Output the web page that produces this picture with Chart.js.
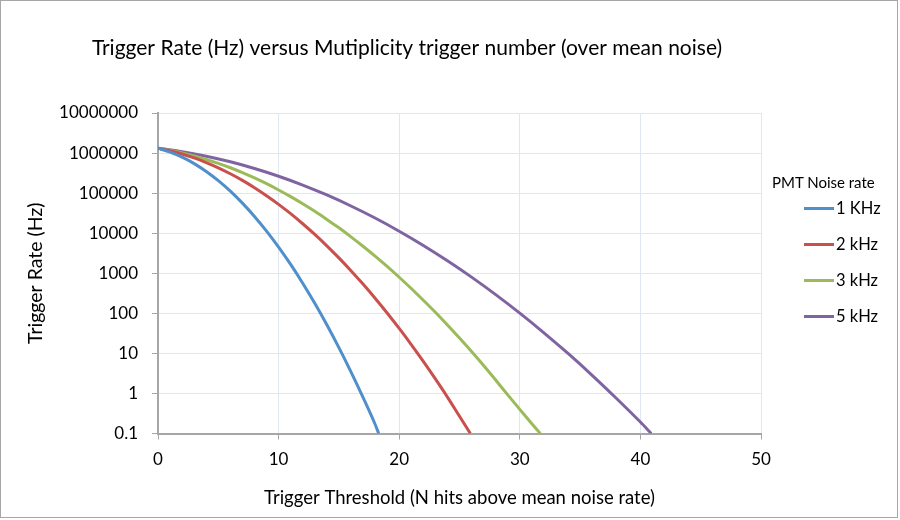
<!DOCTYPE html>
<html>
<head>
<meta charset="utf-8">
<script src="https://cdn.jsdelivr.net/npm/chart.js@4.4.1/dist/chart.umd.min.js"></script>
<style>
  html, body { margin: 0; padding: 0; background: #fff; }
  #frame { position: absolute; left: 0; top: 0; width: 896px; height: 516px; border: 1px solid #a6a6a6; }
  canvas { display: block; }
  #legend { position: absolute; left: 772px; top: 172px; font-family: Lato, "Open Sans", sans-serif; color: #000; }
  #legend .legend-title { font-size: 15px; line-height: 20px; height: 18px; white-space: nowrap; }
  #legend .legend-item { font-size: 16.5px; line-height: 36px; height: 36px; padding-left: 32px; white-space: nowrap; }
  #legend .swatch { display: inline-block; width: 30px; height: 3px; margin-right: 2px; vertical-align: middle; position: relative; top: -1px; }
</style>
</head>
<body>
<div id="frame"><canvas id="rateChart" width="896" height="516"></canvas></div>
<div id="legend"></div>
<script>
Chart.defaults.font.family = "Lato, 'Open Sans', sans-serif";
Chart.defaults.color = "#000";

const Y_TICKS = [0.1, 1, 10, 100, 1000, 10000, 100000, 1000000, 10000000];

const NOISE_LABELS = ["1 KHz", "2 kHz", "3 kHz", "5 kHz"];
const NOISE_COLORS = ["#4f8fcc", "#c9504c", "#9bbb59", "#8064a2"];

// values (Hz, log axis)
const RATE_1KHZ_X = [0, 1, 2, 3, 4, 5, 6, 7, 8, 9, 10, 11, 12, 13, 14, 15, 16, 17, 18, 18.3];
const RATE_1KHZ_Y = [1320000, 1060000, 792000, 546000, 348000, 205000, 112000, 56200, 26200, 11300,
                     4500, 1660, 565, 178, 51.8, 13.9, 3.47, 0.8, 0.17, 0.1];

const RATE_2KHZ_X = [0, 1, 2, 3, 4, 5, 6, 7, 8, 9, 10, 11, 12, 13, 14, 15, 16, 17, 18, 19, 20,
                     21, 22, 23, 24, 25, 25.9];
const RATE_2KHZ_Y = [1320000, 1140000, 946000, 756000, 580000, 429000, 304000, 208000, 137000, 86300,
                     52500, 30700, 17200, 9310, 4840, 2420, 1160, 536, 238, 102, 41.9,
                     16.6, 6.3, 2.3, 0.81, 0.27, 0.1];

const RATE_3KHZ_X = [0, 1, 2, 3, 4, 5, 6, 7, 8, 9, 10, 11, 12, 13, 14, 15, 16, 17, 18, 19, 20,
                     21, 22, 23, 24, 25, 26, 27, 28, 29, 30, 31, 31.7];
const RATE_3KHZ_Y = [1320000, 1170000, 1010000, 847000, 693000, 553000, 430000, 325000, 239000, 172000,
                     120000, 81800, 54300, 35200, 22100, 13600, 8110, 4720, 2670, 1480, 794,
                     416, 212, 106, 51.2, 24.1, 11.1, 4.97, 2.16, 0.92, 0.4, 0.175, 0.1];

const RATE_5KHZ_X = [0, 2, 4, 6, 8, 10, 12, 14, 16, 18, 20, 22, 24, 26, 28, 30, 32, 34, 36, 38, 40, 40.9];
const RATE_5KHZ_Y = [1320000, 1080000, 834000, 605000, 412000, 264000, 159000, 89800, 47700, 23900,
                     11200, 4940, 2050, 800, 293, 101, 32.6, 9.94, 2.84, 0.76, 0.193, 0.1];

const SERIES_X = [RATE_1KHZ_X, RATE_2KHZ_X, RATE_3KHZ_X, RATE_5KHZ_X];
const SERIES_Y = [RATE_1KHZ_Y, RATE_2KHZ_Y, RATE_3KHZ_Y, RATE_5KHZ_Y];

const GRID = "#dfe7f2";
const AXIS = "#a6a6a6";

// ── Plugins ─────────────────────────────────────────────────────────────

// Excel puts the title a little left of the middle
const titleShift = {
  id: "titleShift",
  afterLayout(chart) {
    chart.titleBlock.left = 0;
    chart.titleBlock.right = 812;
  }
};

const htmlLegend = {
  id: "htmlLegend",
  afterUpdate(chart) {
    const box = document.getElementById("legend");
    box.innerHTML = `<div class="legend-title">PMT Noise rate</div>` +
      chart.data.datasets.map(ds =>
        `<div class="legend-item"><span class="swatch" style="background:${ds.borderColor}"></span>${ds.label}</div>`
      ).join("");
  }
};

// ── Chart ───────────────────────────────────────────────────────────────

new Chart(document.getElementById("rateChart"), {
  type: "line",
  data: {
    datasets: NOISE_LABELS.map((label, i) => ({
      label: label,
      data: SERIES_X[i].map((x, j) => ({ x: x, y: SERIES_Y[i][j] })),
      borderColor: NOISE_COLORS[i],
      backgroundColor: NOISE_COLORS[i],
      borderWidth: 3,
      pointRadius: 0,
      cubicInterpolationMode: "monotone",
      fill: false,
    }))
  },
  options: {
    responsive: false,
    animation: false,
    layout: { padding: { left: 20, right: 136, top: 0, bottom: 0 } },
    plugins: {
      legend: { display: false },
      tooltip: { enabled: false },
      title: {
        display: true,
        text: "Trigger Rate (Hz) versus Mutiplicity trigger number (over mean noise)",
        font: { size: 21, weight: "normal" },
        color: "#000",
        padding: { top: 34.4, bottom: 52.4 }
      }
    },
    scales: {
      x: {
        type: "linear",
        min: 0,
        max: 50,
        ticks: { stepSize: 10, padding: 10, font: { size: 17 } },
        grid: { color: GRID, tickColor: AXIS, tickLength: 6 },
        border: { color: AXIS, width: 2 },
        title: {
          display: true,
          text: "Trigger Threshold (N hits above mean noise rate)",
          font: { size: 18.5 },
          padding: { top: 4, bottom: 8 }
        },
        afterFit(scale) { scale.height = 83.5; }
      },
      y: {
        type: "logarithmic",
        min: 0.1,
        max: 10000000,
        afterBuildTicks(scale) { scale.ticks = Y_TICKS.map(v => ({ value: v })); },
        ticks: {
          padding: 14,
          font: { size: 17 },
          callback: v => (v < 1 ? v.toString() : v.toFixed(0))
        },
        grid: { color: GRID, tickColor: AXIS, tickLength: 6 },
        border: { color: AXIS, width: 2 },
        title: {
          display: true,
          text: "Trigger Rate (Hz)",
          font: { size: 19.5 },
          padding: { top: 3, bottom: 4 }
        },
        afterFit(scale) { scale.width = 137; }
      }
    }
  },
  plugins: [titleShift, htmlLegend]
});
</script>
</body>
</html>
